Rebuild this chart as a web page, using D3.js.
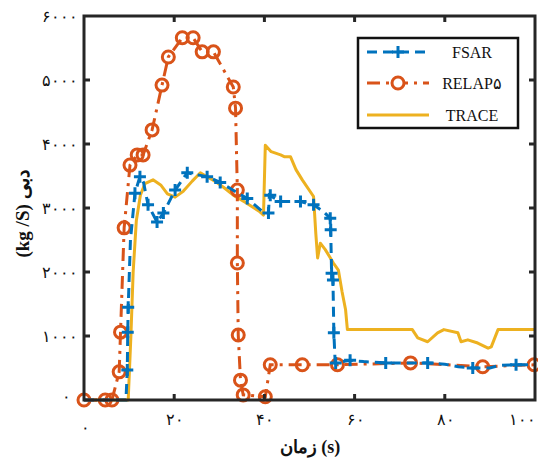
<!DOCTYPE html>
<html>
<head>
<meta charset="utf-8">
<style>
     body {
          margin: 0;
          background: #fff;
          font-family: "Liberation Serif", serif;
     }
     .tick-label {
          font-size: 16px;
          fill: #111;
     }
     .axis-title {
          font-size: 19px;
          font-weight: bold;
          fill: #111;
     }
     .legend-text {
          font-size: 16px;
          fill: #111;
     }
</style>
</head>
<body>
<script src="https://d3js.org/d3.v7.min.js"></script>
<script>

     // time (s), flow (kg/s)
     var fsarLine = [
          [0, 0], [9.3, 0], [9.6, 470], [9.7, 1060], [9.8, 1450], [10.3, 2500], [11.3, 3230],
          [12.4, 3490], [13.2, 3400], [14.2, 3050], [16.2, 2780], [17.6, 2920], [20.2, 3280],
          [22.9, 3550], [25, 3520], [27.3, 3490], [30.2, 3400], [33, 3280], [36.2, 3150],
          [39.5, 2950], [40.9, 2920], [41.1, 3200], [43.6, 3100], [48, 3100], [50.9, 3050],
          [53, 2950], [54.6, 2840], [54.7, 2660], [54.9, 1980], [55.2, 1875], [55.4, 1050],
          [55.7, 580], [59, 620], [62, 600], [66.9, 580], [72, 580], [76.2, 580], [80, 560],
          [83, 520], [86.2, 500], [90, 500], [92, 540], [95.8, 550], [100, 550]
     ];
     var fsarMarks = [
          [9.6, 470], [9.7, 1060], [9.8, 1450], [11.3, 3230], [12.4, 3490], [14.2, 3050],
          [16.2, 2780], [17.6, 2920], [20.2, 3280], [22.9, 3550], [27.3, 3490], [30.2, 3400],
          [36.2, 3150], [40.9, 2920], [41.3, 3200], [43.6, 3100], [48, 3100], [50.9, 3050],
          [54.6, 2840], [54.7, 2660], [54.9, 1980], [55.2, 1875], [55.4, 1050], [55.8, 580],
          [59, 620], [66.9, 580], [76.2, 580], [86.2, 500], [95.8, 550]
     ];
     var relapPoints = [
          [0, 0], [4.7, 0], [6.2, 0], [7.8, 440], [8.1, 1060], [8.9, 2690], [10.2, 3670],
          [11.8, 3830], [13.1, 3830], [15.1, 4220], [17.3, 4920], [18.7, 5360], [21.8, 5660],
          [24.2, 5660], [26.2, 5440], [28.7, 5440], [33.1, 4890], [33.6, 4560], [34, 3280],
          [34, 2140], [34.2, 1015], [34.7, 310], [35.3, 80], [40.2, 50], [41.3, 550],
          [48.4, 550], [56.2, 550], [72.4, 580], [88.4, 520], [99.8, 550]
     ];
     var traceLine = [
          [0, 0], [9.8, 0], [10.4, 1000], [10.9, 2000], [11.6, 2800], [12.5, 3200], [13.5, 3380],
          [15.3, 3440], [17, 3360], [18.5, 3220], [20.2, 3170], [22, 3260], [24, 3420],
          [25.8, 3550], [27, 3500], [29, 3420], [31, 3320], [33.1, 3200], [36, 3080], [39, 2940],
          [39.8, 2890], [40.2, 3980], [41.5, 3880], [43.6, 3830], [44.5, 3800], [45.8, 3800],
          [47, 3600], [48.4, 3440], [50.9, 3180], [51.4, 2600], [51.8, 2220], [52.4, 2450],
          [53.5, 2350], [55.3, 2140], [56.4, 2030], [57.2, 1700], [58, 1410], [58.4, 1100],
          [72.8, 1100], [74, 970], [76.2, 910], [78.4, 1050], [79.8, 1100], [82.9, 1050],
          [83.6, 910], [85.1, 940], [87.3, 890], [89.6, 810], [90.3, 830], [91.8, 1100],
          [100, 1100]
     ];

     var xTicks = [0, 20, 40, 60, 80, 100];
     var yTicks = [0, 1000, 2000, 3000, 4000, 5000, 6000];
     var legendNames = ["FSAR", "RELAP۵", "TRACE"];

     var blue = "#0072BD", orange = "#D95319", yellow = "#EDB120";

     var width = 538, height = 459;
     var plot = {left: 84, right: 535, top: 16, bottom: 400};

     function fa(n) {
          return String(n).replace(/\d/g, function(d) { return "۰۱۲۳۴۵۶۷۸۹"[d]; });
     }

     var x = d3.scaleLinear().domain([0, 100]).range([plot.left, plot.right]);
     var y = d3.scaleLinear().domain([0, 6000]).range([plot.bottom, plot.top]);

     var svg = d3.select("body").append("svg")
          .attr("width", width)
          .attr("height", height);

     var line = d3.line()
          .x(function(d) { return x(d[0]); })
          .y(function(d) { return y(d[1]); });

     // series
     svg.append("path")
          .datum(traceLine)
          .attr("d", line)
          .attr("fill", "none")
          .attr("stroke", yellow)
          .attr("stroke-width", 3)
          .attr("stroke-linejoin", "round");

     svg.append("path")
          .datum(relapPoints)
          .attr("d", line)
          .attr("fill", "none")
          .attr("stroke", orange)
          .attr("stroke-width", 3)
          .attr("stroke-dasharray", "13,6,3,6");

     svg.append("g").selectAll("circle")
          .data(relapPoints)
       .enter().append("circle")
          .attr("cx", function(d) { return x(d[0]); })
          .attr("cy", function(d) { return y(d[1]); })
          .attr("r", 6)
          .attr("fill", "none")
          .attr("stroke", orange)
          .attr("stroke-width", 3);

     svg.append("path")
          .datum(fsarLine)
          .attr("d", line)
          .attr("fill", "none")
          .attr("stroke", blue)
          .attr("stroke-width", 3)
          .attr("stroke-dasharray", "10,6");

     svg.append("g").selectAll("path")
          .data(fsarMarks)
       .enter().append("path")
          .attr("d", function(d) {
               var cx = x(d[0]), cy = y(d[1]);
               return "M" + (cx - 6) + "," + cy + "H" + (cx + 6) + "M" + cx + "," + (cy - 6) + "V" + (cy + 6);
          })
          .attr("stroke", blue)
          .attr("stroke-width", 3);

     // frame + inward ticks
     var frame = svg.append("g");
     frame.append("rect")
          .attr("x", plot.left).attr("y", plot.top)
          .attr("width", plot.right - plot.left).attr("height", plot.bottom - plot.top)
          .attr("fill", "none")
          .attr("stroke", "#262626")
          .attr("stroke-width", 3);

     frame.selectAll(".xt")
          .data(xTicks.slice(1, -1))
       .enter().append("path")
          .attr("d", function(d) {
               return "M" + x(d) + "," + plot.bottom + "v-6M" + x(d) + "," + plot.top + "v6";
          })
          .attr("stroke", "#262626")
          .attr("stroke-width", 3);

     frame.selectAll(".yt")
          .data(yTicks.slice(1, -1))
       .enter().append("path")
          .attr("d", function(d) {
               return "M" + plot.left + "," + y(d) + "h6M" + plot.right + "," + y(d) + "h-6";
          })
          .attr("stroke", "#262626")
          .attr("stroke-width", 3);

     // tick labels
     svg.append("g").selectAll("text")
          .data(yTicks)
       .enter().append("text")
          .attr("class", "tick-label")
          .attr("x", function(d) { return d == 0 ? 66 : 78; })
          .attr("y", function(d) { return d == 0 ? y(d) - 4 : y(d); })
          .attr("dy", "0.35em")
          .attr("text-anchor", function(d) { return d == 0 ? "middle" : "end"; })
          .text(function(d) { return fa(d); });

     svg.append("g").selectAll("text")
          .data(xTicks)
       .enter().append("text")
          .attr("class", "tick-label")
          .attr("x", function(d) { return d == 100 ? 536 : x(d) + 1; })
          .attr("y", function(d) { return d == 0 ? 427 : 419; })
          .attr("dy", "0.35em")
          .attr("text-anchor", function(d) { return d == 100 ? "end" : "middle"; })
          .text(function(d) { return fa(d); });

     // axis titles
     svg.append("text")
          .attr("class", "axis-title")
          .attr("transform", "translate(29,214) rotate(-90)")
          .attr("text-anchor", "middle")
          .text("(kg /S) دبی");

     svg.append("text")
          .attr("class", "axis-title")
          .attr("x", 310)
          .attr("y", 453)
          .attr("text-anchor", "middle")
          .style("font-size", "18px")
          .text("زمان (s)");

     // legend
     var legend = svg.append("g");
     legend.append("rect")
          .attr("x", 358).attr("y", 38)
          .attr("width", 160).attr("height", 90)
          .attr("fill", "#fff")
          .attr("stroke", "#111")
          .attr("stroke-width", 2.5);

     var rowY = [52, 83, 115];
     var colors = [blue, orange, yellow];
     var dashes = ["10,6", "13,6,3,6", null];

     legendNames.forEach(function(name, i) {
          legend.append("line")
               .attr("x1", 367).attr("x2", 429)
               .attr("y1", rowY[i]).attr("y2", rowY[i])
               .attr("stroke", colors[i])
               .attr("stroke-width", 3)
               .attr("stroke-dasharray", dashes[i]);
          legend.append("text")
               .attr("class", "legend-text")
               .attr("x", 472)
               .attr("y", rowY[i])
               .attr("dy", "0.35em")
               .attr("text-anchor", "middle")
               .text(name);
     });

     legend.append("path")
          .attr("d", "M392," + rowY[0] + "h12M398," + (rowY[0] - 6) + "v12")
          .attr("stroke", blue)
          .attr("stroke-width", 3);

     legend.append("circle")
          .attr("cx", 398).attr("cy", rowY[1])
          .attr("r", 6)
          .attr("fill", "#fff")
          .attr("stroke", orange)
          .attr("stroke-width", 3);

</script>
</body>
</html>
